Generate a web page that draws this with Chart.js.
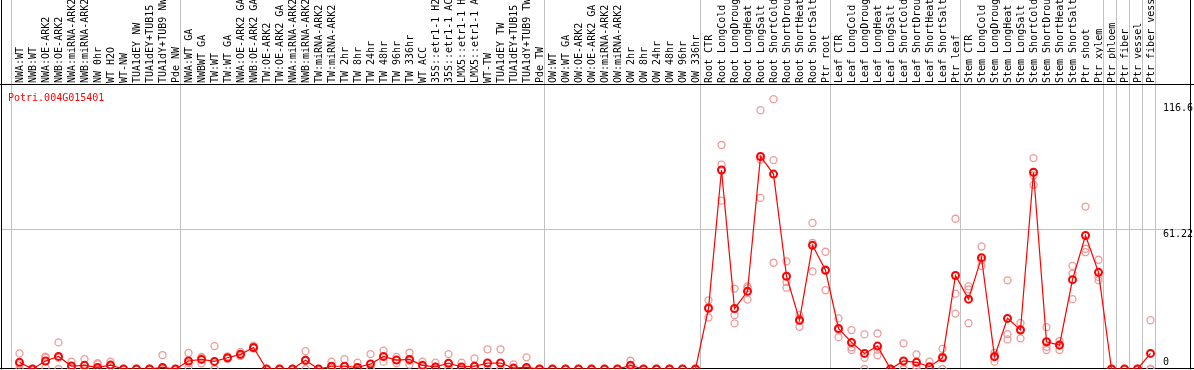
<!DOCTYPE html>
<html>
<head>
<meta charset="utf-8">
<script src="https://cdn.jsdelivr.net/npm/chart.js@4/dist/chart.umd.min.js"></script>
<style>
html,body{margin:0;padding:0;background:#fff;}
canvas{display:block;}
</style>
</head>
<body>
<canvas id="c" width="1194" height="370"></canvas>
<script>
const geneId = 'Potri.004G015401';

const categories = [
  'NWA:WT','NWB:WT','NWA:OE-ARK2','NWB:OE-ARK2','NWA:miRNA-ARK2','NWB:miRNA-ARK2','NW 0hr','WT H2O','WT-NW','TUA1dEY NW','TUA1dEY+TUB15 NW','TUA1dY+TUB9 NW','Pde NW',
  'NWA:WT GA','NWBWT GA','TW:WT','TW:WT GA','NWA:OE-ARK2 GA','NWB:OE-ARK2 GA','TW:OE-ARK2','TW:OE-ARK2 GA','NWA:miRNA-ARK2','NWB:miRNA-ARK2','TW:miRNA-ARK2','TW:miRNA-ARK2','TW 2hr','TW 8hr','TW 24hr','TW 48hr','TW 96hr','TW 336hr','WT ACC','35S::etr1-1 H2O','35S::etr1-1 ACC','LMX5::etr1-1 H2O','LMX5::etr1-1 ACC','WT-TW','TUA1dEY TW','TUA1dEY+TUB15 TW','TUA1dY+TUB9 TW','Pde TW',
  'OW:WT','OW:WT GA','OW:OE-ARK2','OW:OE-ARK2 GA','OW:miRNA-ARK2','OW:miRNA-ARK2','OW 2hr','OW 8hr','OW 24hr','OW 48hr','OW 96hr','OW 336hr',
  'Root CTR','Root LongCold','Root LongDrought','Root LongHeat','Root LongSalt','Root ShortCold','Root ShortDrought','Root ShortHeat','Root ShortSalt','Ptr root',
  'Leaf CTR','Leaf LongCold','Leaf LongDrought','Leaf LongHeat','Leaf LongSalt','Leaf ShortCold','Leaf ShortDrought','Leaf ShortHeat','Leaf ShortSalt','Ptr leaf',
  'Stem CTR','Stem LongCold','Stem LongDrought','Stem LongHeat','Stem LongSalt','Stem ShortCold','Stem ShortDrought','Stem ShortHeat','Stem ShortSalt','Ptr shoot',
  'Ptr xylem','Ptr phloem','Ptr fiber','Ptr vessel','Ptr fiber vessel'
];

// last category index of each separated group
const groupEnds = [12, 40, 52, 62, 72, 83, 84, 85, 86, 87];

const meanValues = [
  2.9,0,3.5,5.5,1.3,1.6,0.7,1.7,0,0,0,0.7,0,
  3.5,4.2,3.3,4.9,6.4,9.4,0,0,0,3.8,0,1.2,1.2,0.7,2.2,5.5,3.9,4.2,1.6,0.9,2.5,0.9,1.2,2.6,2.6,0.4,0.7,0,
  0,0,0,0,0,0,1.6,0,0,0,0,0,
  26.5,86.9,26.4,33.9,92.8,85.1,40.5,21.3,54.0,43.1,
  17.7,11.6,6.8,10.0,0,3.5,2.9,1.0,4.9,40.8,
  30.5,48.6,5.4,22.1,17.0,85.9,11.9,10.4,39.0,58.3,
  42.2,0,0,0,6.8
];

const replicate1 = [
  6.8,0,5.4,11.6,3.2,4.3,2.5,3.2,0,0,0,6.1,0,
  7.0,4.8,10.0,5.5,7.5,10.2,0,0,0,7.8,0,3.2,4.3,2.8,6.5,8.0,5.3,7.1,3.2,2.8,6.5,2.8,4.6,8.6,8.6,2.0,5.1,0,
  0,0,0,0,0,0,3.6,0,0,0,0,0,
  30.0,97.8,35.1,36.1,113.0,117.8,47.0,23.5,63.8,51.2,
  22.1,17.0,15.1,15.5,0,11.2,6.4,3.2,8.8,65.6,
  36.1,53.5,7.1,38.7,20.1,92.1,18.3,12.2,45.0,70.9,
  47.7,0,0,0,21.3
];
const replicate2 = [
  0,0,5.0,0,0.5,0.3,2.0,1.2,0,0,0,0,0,
  2.5,2.5,0,4.5,6.0,9.0,0,0,0,0,0,0.3,0,0,0.5,3.2,2.5,1.9,1.0,0,1.0,0,0,0,0,0,0,0,
  0,0,0,0,0,0,1.2,0,0,0,0,0,
  22.5,89.2,23.6,30.3,91.4,91.2,38.0,18.4,55.1,34.4,
  13.9,8.3,4.9,6.0,0,0,1.5,0,0,32.9,
  34.8,45.0,3.2,15.2,13.4,80.4,9.7,8.3,41.6,52.5,
  40.2,0,0,0,0
];
const replicate3 = [
  2.0,0,0.5,5.0,0.3,0.3,0,0.6,0,0,0,0,0,
  1.0,5.3,0,4.7,5.7,9.0,0,0,0,3.6,0,0,0,0,0,5.3,3.9,3.6,0.6,0,0,0,0,0,0,0,0,0,
  0,0,0,0,0,0,0,0,0,0,0,0,
  27.0,73.5,19.9,35.3,74.7,46.4,35.5,22.0,42.6,43.5,
  17.0,9.5,0,8.5,0,0,0.5,0,5.5,24.2,
  20.0,47.5,6.0,12.9,17.5,84.5,8.3,10.8,30.5,51.0,
  38.7,0,0,0,0
];

const yTickValues = [116.6, 61.22, 0];
const yTickLabels = ['116.6', '61.22', '0'];
const yGridValues = [61.22];

const MONO = '"DejaVu Sans Mono", "Liberation Mono", monospace';

const framePlugin = {
  id: 'frame',
  beforeDatasetsDraw(chart) {
    const ctx = chart.ctx;
    const x = chart.scales.x, y = chart.scales.y;
    const W = chart.width;
    const step = x.getPixelForValue(1) - x.getPixelForValue(0);
    ctx.save();
    ctx.lineWidth = 1;
    ctx.strokeStyle = '#c0c0c0';
    const bottom = chart.chartArea.bottom;
    const vx = [x.getPixelForValue(0) - step / 2 - 2].concat(groupEnds.map(i => x.getPixelForValue(i) + step / 2 - 2));
    vx.forEach(px => {
      const p = Math.round(px) + 0.5;
      ctx.beginPath(); ctx.moveTo(p, 0); ctx.lineTo(p, bottom); ctx.stroke();
    });
    yGridValues.forEach(v => {
      const p = Math.round(y.getPixelForValue(v)) + 0.5;
      ctx.beginPath(); ctx.moveTo(1, p); ctx.lineTo(1191, p); ctx.stroke();
    });
    // black frame
    ctx.strokeStyle = '#000';
    const top = chart.chartArea.top;
    ctx.beginPath();
    ctx.moveTo(1.5, 0); ctx.lineTo(1.5, bottom + 0.5);
    ctx.moveTo(1190.5, 0); ctx.lineTo(1190.5, bottom + 0.5);
    ctx.moveTo(0, top - 0.5); ctx.lineTo(W, top - 0.5);
    ctx.moveTo(0, bottom - 0.5); ctx.lineTo(W, bottom - 0.5);
    ctx.stroke();
    // y labels
    ctx.fillStyle = '#000';
    ctx.font = '10px ' + MONO;
    ctx.textAlign = 'left';
    yTickValues.forEach((v, k) => {
      const p = y.getPixelForValue(v);
      if (v === 0) { ctx.textBaseline = 'bottom'; ctx.fillText(yTickLabels[k], 1163, p - 2); }
      else { ctx.textBaseline = 'top'; ctx.fillText(yTickLabels[k], 1163, p + 1); }
    });
    // gene id
    ctx.fillStyle = '#ff0000';
    ctx.textBaseline = 'top';
    ctx.fillText(geneId, 8, top + 8);
    ctx.restore();
  }
};

const repStyle = {
  showLine: false,
  pointRadius: 3.5,
  pointBorderWidth: 1.3,
  pointBorderColor: '#ee9a9a',
  pointBackgroundColor: 'rgba(0,0,0,0)',
  borderColor: '#ee9a9a',
  pointHoverRadius: 3.5
};

new Chart(document.getElementById('c'), {
  type: 'line',
  data: {
    labels: categories,
    datasets: [
      {
        data: meanValues,
        borderColor: '#ff0000',
        borderWidth: 1.2,
        pointRadius: 3.5,
        pointBorderWidth: 2,
        pointBorderColor: '#ff0000',
        pointBackgroundColor: 'rgba(0,0,0,0)',
        tension: 0,
        order: 0
      },
      Object.assign({ data: replicate1, order: 1 }, repStyle),
      Object.assign({ data: replicate2, order: 2 }, repStyle),
      Object.assign({ data: replicate3, order: 3 }, repStyle)
    ]
  },
  options: {
    responsive: false,
    animation: false,
    devicePixelRatio: 1,
    layout: { autoPadding: false, padding: { left: 13, right: 37, top: 0, bottom: 1 } },
    plugins: { legend: { display: false }, tooltip: { enabled: false }, title: { display: false } },
    scales: {
      x: {
        type: 'category',
        position: 'top',
        offset: true,
        grid: { display: false, drawTicks: false },
        border: { display: false },
        ticks: {
          autoSkip: false,
          minRotation: 90,
          maxRotation: 90,
          padding: 2,
          labelOffset: 13,
          color: '#000',
          font: { family: MONO, size: 10 }
        },
        afterFit(scale) { scale.height = 85; }
      },
      y: { display: false, min: 0, max: 124 }
    }
  },
  plugins: [framePlugin]
});
</script>
</body>
</html>
